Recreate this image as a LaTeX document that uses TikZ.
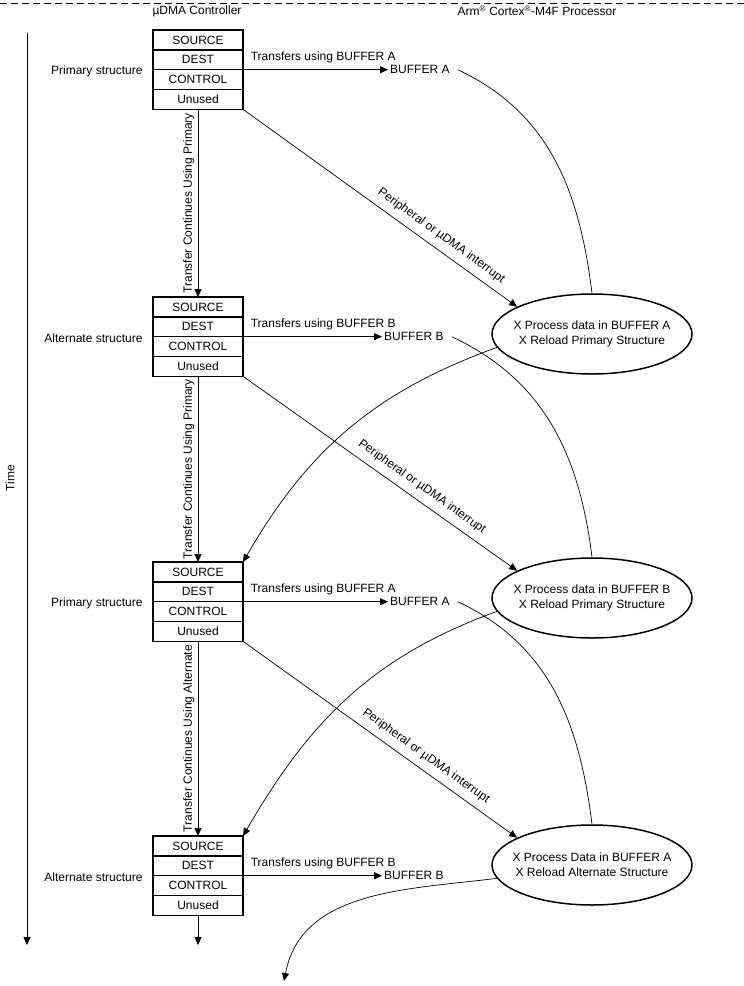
\documentclass[tikz,border=0pt]{standalone}
\usepackage{fontspec}
\setmainfont{Liberation Sans}
\usetikzlibrary{arrows.meta,positioning,shapes.geometric}
\tikzset{
  field/.style={draw,line width=1.5pt,minimum width=90pt,minimum height=19.8pt,inner sep=0pt,outer sep=0pt},
  tip/.style={-{Triangle[length=8pt,width=7pt]}},
  task/.style={ellipse,draw,line width=1.5pt,minimum width=200pt,minimum height=80pt,align=center,inner xsep=-10pt,inner ysep=0pt},
  wire/.style={line width=0.7pt},
  irqtext/.style={sloped,above=4pt},
}
\newcommand{\dmastruct}[3]{
  \node[field] (#1src) at (198,-#2-10) {SOURCE};
  \node[field,below=0pt of #1src] (#1dst) {DEST};
  \node[field,below=0pt of #1dst] (#1ctl) {CONTROL};
  \node[field,below=0pt of #1ctl] (#1unu) {Unused};
  \node[anchor=east] (#1lbl) at (146,-#2-41) {#3};
}
\newcommand{\transfer}[3]{
  \node[anchor=west,inner xsep=2pt] (#1buf) at ([xshift=#3pt]#1ctl.north east) {BUFFER #2};
  \draw[tip,line width=0.9pt] (#1ctl.north east) -- node[pos=0,anchor=base west,xshift=4pt,yshift=9pt] (#1txt) {Transfers using BUFFER #2} (#1buf.west);
}
\begin{document}
\begin{tikzpicture}[x=1pt,y=1pt,font=\fontsize{12}{15}\selectfont]
\useasboundingbox (0,0) rectangle (744,-986);
\draw[dashed,dash pattern=on 7pt off 4pt] (0,-3) -- (744,-3);
\node (hdma) at (197,-11) {µDMA Controller};
\node (hcpu) at (537,-11) {Arm\textsuperscript{®} Cortex\textsuperscript{®}-M4F Processor};
% time axis
\coordinate (t0) at (27,-33);
\coordinate (t1) at (27,-945);
\draw[tip] (t0) -- (t1);
\node[rotate=90] (time) at (10,-478) {Time};
% channel structures
\dmastruct{st1}{30}{Primary structure}
\dmastruct{st2}{297}{Alternate structure}
\dmastruct{st3}{562}{Primary structure}
\dmastruct{st4}{836}{Alternate structure}
\transfer{st1}{A}{145}
\transfer{st2}{B}{139}
\transfer{st3}{A}{145}
\transfer{st4}{B}{139}
\draw[tip] (st1unu.south) -- node[midway,rotate=90,anchor=south] {Transfer Continues Using Primary} (st2src.north);
\draw[tip] (st2unu.south) -- node[midway,rotate=90,anchor=south] {Transfer Continues Using Primary} (st3src.north);
\draw[tip] (st3unu.south) -- node[midway,rotate=90,anchor=south] {Transfer Continues Using Alternate} (st4src.north);
\coordinate (tail) at (198,-945);
\draw[tip] (st4unu.south) -- (tail);
% processor tasks
\node[task] (ell1) at (592,-334) {X Process data in BUFFER A\\X Reload Primary Structure};
\node[task] (ell2) at (592,-598) {X Process data in BUFFER B\\X Reload Primary Structure};
\node[task] (ell3) at (592,-865) {X Process Data in BUFFER A\\X Reload Alternate Structure};
\draw[wire,tip] (st1unu.south east) -- node[irqtext,pos=0.695] {Peripheral or µDMA interrupt} (ell1.160);
\draw[wire,tip] (st2unu.south east) -- node[irqtext,pos=0.625] {Peripheral or µDMA interrupt} (ell2.160);
\draw[wire,tip] (st3unu.south east) -- node[irqtext,pos=0.64] {Peripheral or µDMA interrupt} (ell3.160);
\draw[wire] ([xshift=6pt]st1buf.east) to[out=-25,in=97] (ell1.north);
\draw[wire,tip] (ell1.188) to[out=200,in=60] (st3src.north east);
\draw[wire] ([xshift=6pt]st2buf.east) to[out=-25,in=97] (ell2.north);
\draw[wire,tip] (ell2.188) to[out=200,in=60] (st4src.north east);
\draw[wire] ([xshift=6pt]st3buf.east) to[out=-25,in=97] (ell3.north);
\coordinate (loose) at (284,-981);
\draw[wire,tip] (ell3.188) to[out=187,in=79] (loose);
\end{tikzpicture}
\end{document}
